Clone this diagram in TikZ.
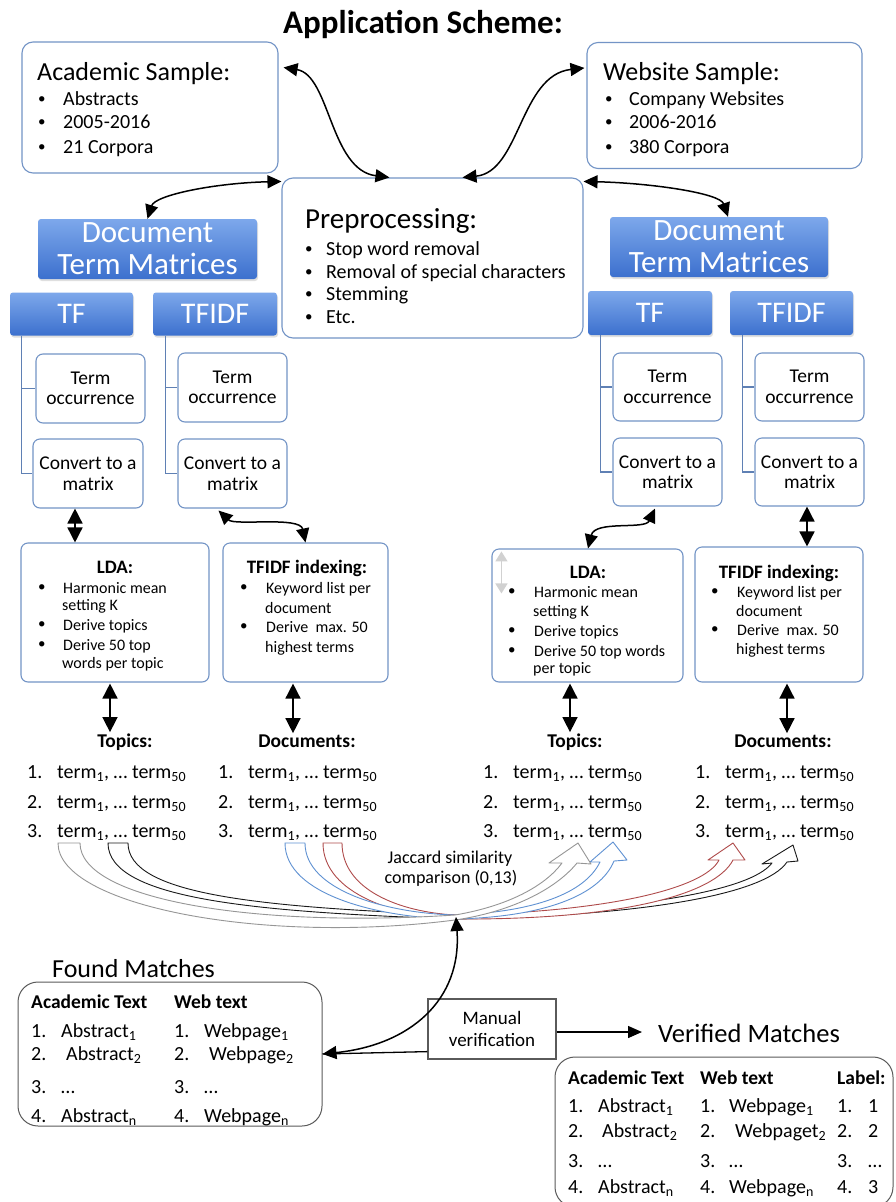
\documentclass[tikz,border=0pt]{standalone}
\usepackage{fontspec}
\setmainfont{Carlito}
\usetikzlibrary{arrows.meta,calc,shadows}
\definecolor{boxblue}{RGB}{115,148,198}
\definecolor{connblue}{RGB}{95,128,180}
\definecolor{dtmtop}{RGB}{125,168,235}
\definecolor{dtmbot}{RGB}{60,112,206}
\definecolor{framegray}{RGB}{90,90,90}
\definecolor{agray}{RGB}{150,150,150}
\definecolor{ablack}{RGB}{25,25,25}
\definecolor{ablue}{RGB}{95,145,210}
\definecolor{ared}{RGB}{175,75,75}
\newcommand\fsz[2]{\fontsize{#1}{#2}\selectfont}
\newcommand\tsub[1]{\textsubscript{#1}}
\newcommand\trm{term\tsub{1}, … term\tsub{50}}
\newcommand\bu{\raisebox{1.5pt}{\fontsize{15}{15}\selectfont •}}
\begin{document}
\begin{tikzpicture}[x=1pt,y=-1pt,
  sbox/.style={draw=boxblue, line width=1.1pt, rounded corners=11pt, fill=white, inner sep=0pt},
  tbox/.style={draw=boxblue, line width=1.1pt, rounded corners=7pt, fill=white, align=center, font=\fsz{19.5}{20.5}, inner sep=0pt},
  dtm/.style={rounded corners=3pt, top color=dtmtop, bottom color=dtmbot, text=white, align=center, inner sep=0pt, drop shadow={opacity=0.25, shadow xshift=1pt, shadow yshift=-2pt}},
  tb/.style={anchor=base west, inner sep=0pt},
  tc/.style={anchor=base, inner sep=0pt},
  conn/.style={draw=connblue, line width=1.2pt},
  dbl/.style={line width=1.5pt, {Triangle[length=14pt,width=13pt]}-{Triangle[length=14pt,width=13pt]}},
  sdbl/.style={line width=1.5pt, {Triangle[length=15pt,width=15pt]}-{Triangle[length=15pt,width=15pt]}},
  barr/.style={line width=0.9pt, fill=white, line join=round},
  frame/.style={draw=framegray, line width=1pt, rounded corners=20pt, inner sep=0pt},
  ]
\useasboundingbox (0,0) rectangle (895,1202);
\fill[white] (0,0) rectangle (895,1202);
\clip (0,0) rectangle (895,1202);

% ---------- title
\node[tb, font=\bfseries\fsz{33}{36}] (title) at (283,33) {Application Scheme:};

% ---------- samples
\node[sbox, minimum width=256, minimum height=131] (acad) at (150,107.5) {};
\node[tb, font=\fsz{26}{28}] (acadt) at (37,80) {Academic Sample:};
\begin{scope}[font=\fsz{20}{22}]
\node[tb] (acb1) at (38,105) {\bu}; \node[tb] (aci1) at (63,105) {Abstracts};
\node[tb] (acb2) at (38,128) {\bu}; \node[tb] (aci2) at (63,128) {2005-2016};
\node[tb] (acb3) at (38,153) {\bu}; \node[tb] (aci3) at (63,153) {21 Corpora};
\end{scope}

\node[sbox, minimum width=275, minimum height=126] (web) at (724.5,105.5) {};
\node[tb, font=\fsz{26}{28}] (webt) at (603,80) {Website Sample:};
\begin{scope}[font=\fsz{20}{22}]
\node[tb] (wbb1) at (605,105) {\bu}; \node[tb] (wbi1) at (629,105) {Company Websites};
\node[tb] (wbb2) at (605,128) {\bu}; \node[tb] (wbi2) at (629,128) {2006-2016};
\node[tb] (wbb3) at (605,153) {\bu}; \node[tb] (wbi3) at (629,153) {380 Corpora};
\end{scope}

% ---------- preprocessing
\node[sbox, minimum width=301, minimum height=160] (pre) at (432.5,258) {};
\node[tb, font=\fsz{29}{31}] (pret) at (305,228) {Preprocessing:};
\begin{scope}[font=\fsz{20}{22}]
\node[tb] (prb1) at (305,255) {\bu}; \node[tb] (pri1) at (326,255) {Stop word removal};
\node[tb] (prb2) at (305,278) {\bu}; \node[tb] (pri2) at (326,278) {Removal of special characters};
\node[tb] (prb3) at (305,300) {\bu}; \node[tb] (pri3) at (326,300) {Stemming};
\node[tb] (prb4) at (305,323) {\bu}; \node[tb] (pri4) at (326,323) {Etc.};
\end{scope}

% ---------- document term matrices
\node[dtm, minimum width=219, minimum height=60, font=\fsz{31}{32}] (dtmL) at (147.5,249) {Document\\Term Matrices};
\node[dtm, minimum width=218, minimum height=60, font=\fsz{31}{32}] (dtmR) at (719,247) {Document\\Term Matrices};
\node[dtm, minimum width=123, minimum height=43, font=\fsz{30}{32}] (tfL) at (71.5,314) {TF};
\node[dtm, minimum width=124, minimum height=43, font=\fsz{30}{32}] (tfidfL) at (215,314) {TFIDF};
\node[dtm, minimum width=124, minimum height=44, font=\fsz{30}{32}] (tfR) at (650,313) {TF};
\node[dtm, minimum width=123, minimum height=44, font=\fsz{30}{32}] (tfidfR) at (791.5,313) {TFIDF};

% ---------- term / convert boxes
\node[tbox, minimum width=109, minimum height=69] (toL1) at (90.5,388.5) {Term\\occurrence};
\node[tbox, minimum width=110, minimum height=69] (cvL1) at (88,473.5) {Convert to a\\matrix};
\node[tbox, minimum width=109, minimum height=69] (toL2) at (232.5,387.5) {Term\\occurrence};
\node[tbox, minimum width=109, minimum height=69] (cvL2) at (232.5,473.5) {Convert to a\\matrix};
\node[tbox, minimum width=109, minimum height=68] (toR1) at (667.5,387) {Term\\occurrence};
\node[tbox, minimum width=109, minimum height=68] (cvR1) at (667.5,472) {Convert to a\\matrix};
\node[tbox, minimum width=109, minimum height=68] (toR2) at (809.5,387) {Term\\occurrence};
\node[tbox, minimum width=109, minimum height=68] (cvR2) at (809.5,472) {Convert to a\\matrix};

\draw[conn] ($(tfL.south west)+(12,0)$) |- (cvL1.west);
\draw[conn] ($(tfL.south west)+(12,0)$) |- (toL1.west);
\draw[conn] ($(tfidfL.south west)+(13,0)$) |- (cvL2.west);
\draw[conn] ($(tfidfL.south west)+(13,0)$) |- (toL2.west);
\draw[conn] ($(tfR.south west)+(13,0)$) |- (cvR1.west);
\draw[conn] ($(tfR.south west)+(13,0)$) |- (toR1.west);
\draw[conn] ($(tfidfR.south west)+(13,0)$) |- (cvR2.west);
\draw[conn] ($(tfidfR.south west)+(13,0)$) |- (toR2.west);

% ---------- LDA / TFIDF indexing
\node[tbox, minimum width=188, minimum height=139] (ldaL) at (115,612.5) {};
\node[tbox, minimum width=165, minimum height=139] (tixL) at (305.5,612.5) {};
\node[tbox, minimum width=191, minimum height=133] (ldaR) at (587.5,615.5) {};
\node[tbox, minimum width=168, minimum height=135] (tixR) at (779,614.5) {};
\begin{scope}[font=\bfseries\fsz{19}{20}]
\node[tc] (ldaLt) at (115,573) {LDA:};
\node[tc] (tixLt) at (307,573) {TFIDF indexing:};
\node[tc] (ldaRt) at (588,578) {LDA:};
\node[tc] (tixRt) at (779,578) {TFIDF indexing:};
\end{scope}
\begin{scope}[font=\fsz{16}{18}]
\node[tb] (lLb1) at (38,593) {\bu}; \node[tb] (lLi1) at (63,593) {Harmonic mean};
\node[tb] (lLi1b) at (62,610) {setting K};
\node[tb] (lLb2) at (38,630) {\bu}; \node[tb] (lLi2) at (63,630) {Derive topics};
\node[tb] (lLb3) at (38,650) {\bu}; \node[tb] (lLi3) at (63,650) {Derive 50 top};
\node[tb] (lLi3b) at (62,668) {words per topic};
\node[tb] (tLb1) at (240,593) {\bu}; \node[tb] (tLi1) at (266,593) {Keyword list per};
\node[tb] (tLi1b) at (265,613) {document};
\node[tb] (tLb2) at (240,632) {\bu}; \node[tb] (tLi2) at (266,632) {Derive\ \ max. 50};
\node[tb] (tLi2b) at (265,652) {highest terms};
\node[tb] (lRb1) at (508,597) {\bu}; \node[tb] (lRi1) at (534,597) {Harmonic mean};
\node[tb] (lRi1b) at (533,616) {setting K};
\node[tb] (lRb2) at (508,636) {\bu}; \node[tb] (lRi2) at (534,636) {Derive topics};
\node[tb] (lRb3) at (508,656) {\bu}; \node[tb] (lRi3) at (534,656) {Derive 50 top words};
\node[tb] (lRi3b) at (533,673) {per topic};
\node[tb] (tRb1) at (711,597) {\bu}; \node[tb] (tRi1) at (737,597) {Keyword list per};
\node[tb] (tRi1b) at (736,616) {document};
\node[tb] (tRb2) at (711,635) {\bu}; \node[tb] (tRi2) at (737,635) {Derive\ \ max. 50};
\node[tb] (tRi2b) at (736,654) {highest terms};
\end{scope}
\draw[line width=1.5pt, black!18, {Triangle[length=10pt,width=12pt]}-{Triangle[length=10pt,width=12pt]}] ($(ldaR.north west)+(10,3)$) -- ($(ldaR.north west)+(10,45)$);

% ---------- connectors (top)
\draw[dbl] ($(acad.north east)+(5,26)$) .. controls (330,75) and (330,170) .. ($(pre.north west)+(108,0)$);
\draw[dbl] ($(pre.north)+(30,0)$) .. controls (520,172) and (520,75) .. ($(web.north west)+(-2,26)$);
\draw[dbl] ($(pre.north west)+(0,4)$) .. controls (215,183) and (155,195) .. (dtmL.north);
\draw[dbl] ($(pre.north east)+(0,4)$) .. controls (650,183) and (720,193) .. ($(dtmR.north)+(9,0)$);

% ---------- connectors (middle)
\draw[sdbl] ($(cvL1.south)+(-13,0)$) -- ($(ldaL.north)+(-40,0)$);
\draw[sdbl] ($(cvR2.south)+(-2.5,0)$) -- ($(tixR.north)+(28,0)$);
\draw[dbl] ($(cvL2.south)+(-14,2)$) .. controls (235,526) and (300,516) .. (tixL.north);
\draw[dbl] ($(cvR1.south)+(-12.5,2)$) .. controls (645,530) and (595,520) .. ($(ldaR.north)+(0.5,0)$);

% ---------- result lists
\begin{scope}[font=\bfseries\fsz{19.5}{20}]
\node[tc] (topL) at (125,747) {Topics:};
\node[tc] (docL) at (307,747) {Documents:};
\node[tc] (topR) at (575,747) {Topics:};
\node[tc] (docR) at (783,747) {Documents:};
\end{scope}
\draw[sdbl] ($(ldaL.south)+(-5,1)$) -- ($(topL.north)+(-15,-1)$);
\draw[sdbl] ($(tixL.south)+(-12.5,1)$) -- ($(docL.north)+(-14,-1)$);
\draw[sdbl] ($(ldaR.south)+(-17.5,1)$) -- ($(topR.north)+(-5,-1)$);
\draw[sdbl] ($(tixR.south)+(8,1)$) -- ($(docR.north)+(4,-1)$);

\begin{scope}[font=\fsz{20}{22}]
\node[tb] (tLn1) at (27,778) {1.}; \node[tb] (tLr1) at (57,778) {\trm};
\node[tb] (tLn2) at (27,808) {2.}; \node[tb] (tLr2) at (57,808) {\trm};
\node[tb] (tLn3) at (27,837) {3.}; \node[tb] (tLr3) at (57,837) {\trm};
\node[tb] (dLn1) at (218,778) {1.}; \node[tb] (dLr1) at (248,778) {\trm};
\node[tb] (dLn2) at (218,808) {2.}; \node[tb] (dLr2) at (248,808) {\trm};
\node[tb] (dLn3) at (218,837) {3.}; \node[tb] (dLr3) at (248,837) {\trm};
\node[tb] (tRn1) at (483,778) {1.}; \node[tb] (tRr1) at (513,778) {\trm};
\node[tb] (tRn2) at (483,808) {2.}; \node[tb] (tRr2) at (513,808) {\trm};
\node[tb] (tRn3) at (483,837) {3.}; \node[tb] (tRr3) at (513,837) {\trm};
\node[tb] (dRn1) at (695,778) {1.}; \node[tb] (dRr1) at (725,778) {\trm};
\node[tb] (dRn2) at (695,808) {2.}; \node[tb] (dRr2) at (725,808) {\trm};
\node[tb] (dRn3) at (695,837) {3.}; \node[tb] (dRr3) at (725,837) {\trm};
\end{scope}

% ---------- curved block arrows
\draw[barr, draw=ablack] (108,843) .. controls (108,900) and (260,912) .. (455,919)
  .. controls (640,916) and (765,895) .. (787,862) -- (798,861) -- (793,845) -- (762,864) -- (772,863)
  .. controls (750,892) and (630,911) .. (455,915)
  .. controls (260,907) and (128,895) .. (128,843) -- cycle;
\draw[barr, draw=ared] (323,843) .. controls (323,895) and (400,917) .. (455,919)
  .. controls (620,920) and (715,895) .. (733,860) -- (745,860) -- (733,843) -- (708,860) -- (719,860)
  .. controls (705,888) and (610,912) .. (455,915)
  .. controls (400,912) and (342,890) .. (342,843) -- cycle;
\draw[barr, draw=ablue] (285,843) .. controls (285,895) and (380,918) .. (455,919)
  .. controls (545,917) and (600,895) .. (614,861) -- (627,860) -- (613,842) -- (590,862) -- (600,862)
  .. controls (585,893) and (535,912) .. (455,915)
  .. controls (385,913) and (305,890) .. (305,843) -- cycle;
\draw[barr, draw=agray] (58,843) .. controls (58,905) and (260,945) .. (455,920)
  .. controls (510,912) and (555,890) .. (577,863) -- (591,864) -- (578,843) -- (549,863) -- (562,863)
  .. controls (545,886) and (508,906) .. (455,915)
  .. controls (255,928) and (80,900) .. (80,843) -- cycle;
\coordinate (conv) at (456,917);

\node[tc, font=\fsz{18}{20}] (jac1) at (450,863) {Jaccard similarity};
\node[tc, font=\fsz{18}{20}] (jac2) at (451,883) {comparison (0,13)};

% ---------- found matches
\node[tb, font=\fsz{26}{28}] (foundt) at (52,977) {Found Matches};
\node[frame, minimum width=304, minimum height=144] (found) at (170,1054) {};
\node[tb, font=\bfseries\fsz{19.5}{21}] (fh1) at (31,1008) {Academic Text};
\node[tb, font=\bfseries\fsz{19.5}{21}] (fh2) at (174,1008) {Web text};
\begin{scope}[font=\fsz{20}{22}]
\node[tb] (fa1n) at (31,1037) {1.}; \node[tb] (fa1) at (61,1037) {Abstract\tsub{1}};
\node[tb] (fa2n) at (31,1060) {2.}; \node[tb] (fa2) at (66,1060) {Abstract\tsub{2}};
\node[tb] (fa3n) at (31,1093) {3.}; \node[tb] (fa3) at (61,1093) {…};
\node[tb] (fa4n) at (31,1122) {4.}; \node[tb] (fa4) at (61,1122) {Abstract\tsub{n}};
\node[tb] (fw1n) at (174,1037) {1.}; \node[tb] (fw1) at (204,1037) {Webpage\tsub{1}};
\node[tb] (fw2n) at (174,1060) {2.}; \node[tb] (fw2) at (209,1060) {Webpage\tsub{2}};
\node[tb] (fw3n) at (174,1093) {3.}; \node[tb] (fw3) at (204,1093) {…};
\node[tb] (fw4n) at (174,1122) {4.}; \node[tb] (fw4) at (204,1122) {Webpage\tsub{n}};
\end{scope}

% ---------- manual verification
\node[draw=framegray, line width=1.2pt, minimum width=128, minimum height=60, inner sep=0pt, align=center, font=\fsz{19}{22}] (manual) at (492,1029) {Manual\\verification};
\node[tb, font=\fsz{26.5}{28}] (vert) at (658,1042) {Verified Matches};
\draw[line width=1.3pt] ($(manual.south west)+(0,-8)$) -- (found.east);
\draw[dbl] (conv) .. controls (462,1000) and (410,1045) .. (found.east);
\draw[line width=1.3pt, -{Triangle[length=14pt,width=12pt]}] ($(manual.east)+(0,3)$) -- ($(manual.east -| vert.west)+(-16,3)$);

% ---------- verified matches
\node[frame, minimum width=338, minimum height=150] (verbox) at (724,1132) {};
\begin{scope}[font=\bfseries\fsz{19.5}{21}]
\node[tb] (vh1) at (568,1084) {Academic Text};
\node[tb] (vh2) at (700,1084) {Web text};
\node[tb] (vh3) at (837,1084) {Label:};
\end{scope}
\begin{scope}[font=\fsz{20}{22}]
\node[tb] (va1n) at (568,1112) {1.}; \node[tb] (va1) at (598,1112) {Abstract\tsub{1}};
\node[tb] (va2n) at (568,1137) {2.}; \node[tb] (va2) at (602,1137) {Abstract\tsub{2}};
\node[tb] (va3n) at (568,1167) {3.}; \node[tb] (va3) at (598,1167) {…};
\node[tb] (va4n) at (568,1193) {4.}; \node[tb] (va4) at (598,1193) {Abstract\tsub{n}};
\node[tb] (vw1n) at (700,1112) {1.}; \node[tb] (vw1) at (729,1112) {Webpage\tsub{1}};
\node[tb] (vw2n) at (700,1137) {2.}; \node[tb] (vw2) at (735,1137) {Webpaget\tsub{2}};
\node[tb] (vw3n) at (700,1167) {3.}; \node[tb] (vw3) at (729,1167) {…};
\node[tb] (vw4n) at (700,1193) {4.}; \node[tb] (vw4) at (729,1193) {Webpage\tsub{n}};
\node[tb] (vl1n) at (837,1112) {1.}; \node[tb] (vl1) at (868,1112) {1};
\node[tb] (vl2n) at (837,1137) {2.}; \node[tb] (vl2) at (868,1137) {2};
\node[tb] (vl3n) at (837,1167) {3.}; \node[tb] (vl3) at (868,1167) {…};
\node[tb] (vl4n) at (837,1193) {4.}; \node[tb] (vl4) at (868,1193) {3};
\end{scope}
\end{tikzpicture}
\end{document}
